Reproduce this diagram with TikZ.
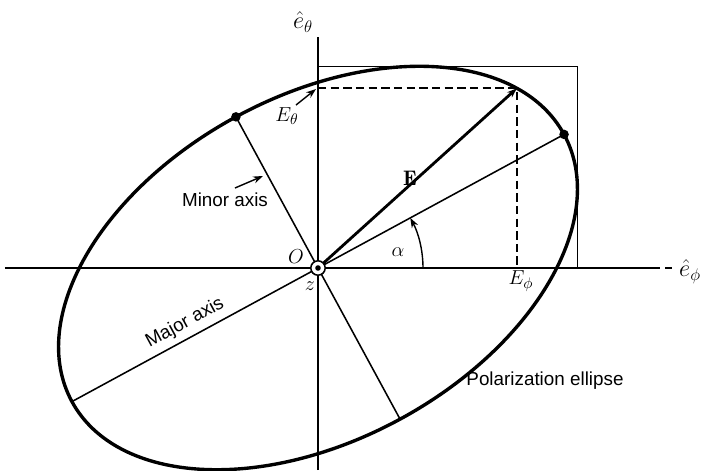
\documentclass[tikz,border=0pt]{standalone}
\usepackage{amsmath,amssymb,bm}
\usepackage{fontspec}
\setsansfont{Liberation Sans}
\usetikzlibrary{arrows.meta,positioning}
\tikzset{lbl/.style={font=\sffamily\fontsize{13.4}{15}\selectfont},mth/.style={font=\fontsize{15}{17}\selectfont},
ax/.style={line width=1.1pt},arr/.style={-{Stealth[length=7pt,width=5pt]}},dot/.style={circle,fill,inner sep=2.4pt}}
\begin{document}
\begin{tikzpicture}[x=0.025cm,y=0.025cm]
\useasboundingbox(-318,-202)rectangle(392,268);
\coordinate(O)at(0,0);
\coordinate(tth)at(0,231);\coordinate(bth)at(0,-202);\coordinate(lph)at(-313,0);\coordinate(rph)at(342,0);
\coordinate(dA)at(347,0);\coordinate(dB)at(354,0);
\coordinate(bxA)at(0,201.7);\coordinate(bxB)at(259.4,201.7);\coordinate(bxC)at(259.4,0);
\path[rotate=28.5](0:280)coordinate(maA)(180:280)coordinate(maB)(90:172)coordinate(miA)(270:172)coordinate(miB)
  (21.5:280 and 172)coordinate(Etip);
% axes and box
\draw[ax](bth)--(tth);\draw[ax](lph)--(rph);\draw[line width=1.4pt](dA)--(dB);
\draw[ax](bxA)--(bxB)--(bxC);
% ellipse with its axes
\draw[line width=2.4pt,rotate=28.5](O)ellipse(280 and 172);
\draw[ax](maB)--(maA);\draw[ax](miA)--(miB);
\node[dot]at(maA){};\node[dot]at(miA){};
% field vector and its parts
\draw[dashed,line width=1.2pt,dash pattern=on 6pt off 3pt](Etip-|O)--(Etip)--(Etip|-O);
\draw[line width=2pt,arr](O)--(Etip);
\draw[arr,line width=1pt](105,0)arc(0:28.5:105);
\node[circle,draw,fill=white,line width=1.1pt,inner sep=0pt,minimum size=0.36cm](o)at(O){};
\node[circle,fill,inner sep=0pt,minimum size=0.14cm]at(O){};
% labels
\node[mth](eth)at(-15,246){\LARGE$\hat{e}_{\theta}$};
\node[mth](eph)at(372,-4){\LARGE$\hat{e}_{\phi}$};
\node[mth](lO)at(-22,11){$O$};\node[mth](lz)at(-8,-18){$z$};
\node[mth](la)at(80,16){$\alpha$};
\node[mth](lE)at(92,90){$\mathbf{E}$};
\node[mth](lEt)at(-31,152){$E_{\theta}$};
\node[mth](lEp)at(203,-13){$E_{\phi}$};
\coordinate(atA)at(-22,163);\coordinate(atB)at(-2,179);\draw[arr,line width=1pt](atA)--(atB);
\node[lbl](lmin)at(-93,68){Minor axis};
\coordinate(amA)at(-83,80);\coordinate(amB)at(-55,92);\draw[arr,line width=1pt](amA)--(amB);
\node[lbl,rotate=28.5](lmaj)at(-133,-55){Major axis};
\node[lbl](lpol)at(227,-113){Polarization ellipse};
\end{tikzpicture}
\end{document}
